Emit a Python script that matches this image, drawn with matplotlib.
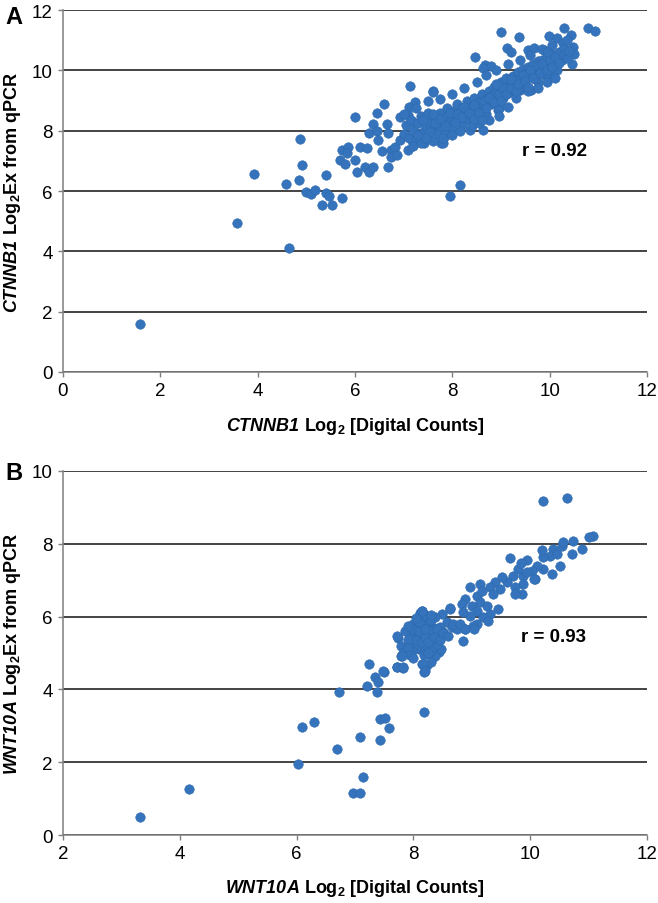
import matplotlib
matplotlib.use("Agg")
from matplotlib import pyplot as plt

plt.rcParams['font.family'] = ['Liberation Sans', 'DejaVu Sans']
plt.rcParams['mathtext.fontset'] = 'custom'
plt.rcParams['mathtext.sf'] = 'Liberation Sans:italic:bold'
plt.rcParams['mathtext.rm'] = 'Liberation Sans:bold'
plt.rcParams['mathtext.bf'] = 'Liberation Sans:bold'

# panel A: CTNNB1, digital counts (x) vs qPCR (y)
ctnnb1_x = [
    1.58, 3.57, 3.92, 4.65, 4.58, 4.85, 4.92, 4.86, 5.00, 5.10, 5.18, 5.33, 5.40, 5.46, 5.53,
    5.74, 5.41, 7.95, 8.15,
    6.00, 6.46, 6.60, 6.65, 6.36, 6.28, 6.46, 6.48, 6.67, 5.74, 5.86, 5.84, 6.11, 6.24, 5.70,
    5.80, 5.99, 6.05, 6.21, 6.28, 6.38, 6.67, 6.56, 6.73, 6.83, 6.93, 6.73, 6.87, 7.08, 7.20,
    7.41, 7.28, 6.93, 7.10, 7.24, 7.08, 7.20, 7.49, 7.60, 7.76, 7.82, 7.14,
    8.46, 8.99, 9.38, 9.98, 10.29, 10.16, 10.43, 10.47, 10.78, 10.93, 9.12, 9.20, 8.68, 8.79,
    8.62, 9.55, 9.67, 9.88, 10.02, 10.27, 10.02, 9.75, 9.61, 9.40, 8.95, 8.93, 8.58, 8.62,
    8.37, 7.80, 7.61,
    7.00, 7.05, 7.10, 7.15, 7.20, 7.25, 7.30, 7.35, 7.40, 7.45, 7.50, 7.50, 7.55, 7.60, 7.65,
    7.70, 7.70, 7.75, 7.80, 7.85, 7.90, 7.90, 7.95, 8.00, 8.00, 8.05, 8.10, 8.10, 8.15, 8.20,
    8.20, 8.25, 8.30, 8.30, 8.35, 8.40, 8.40, 8.45, 8.50, 8.50, 8.55, 8.60, 8.60, 8.65, 8.70,
    8.70, 8.75, 8.80, 8.80, 8.85, 8.90, 8.90, 8.95, 9.00, 9.00, 9.05, 9.10, 9.10, 9.15, 9.20,
    9.25, 9.25, 9.30, 9.35, 9.40, 9.40, 9.45, 9.50, 9.50, 9.55, 9.60, 9.65, 9.70, 9.70, 9.75,
    9.80, 9.85, 9.90, 9.90, 9.95, 10.00, 10.05, 10.10, 10.15, 10.20, 10.25, 10.30,
    7.20, 7.35, 7.60, 7.80, 8.00, 8.15, 8.40, 8.55, 8.75, 8.95, 9.15, 9.30, 9.55, 9.75, 9.95,
    10.10,
    7.00, 7.25, 7.50, 7.75, 8.00, 8.25, 8.50, 8.70, 8.90, 9.15, 9.40, 9.60, 9.85, 10.05, 10.35,
    10.50, 10.45,
    7.30, 7.40, 7.55, 7.65, 7.75, 7.85, 7.95, 8.05, 8.10, 8.20, 8.25, 8.35, 8.45, 8.45, 8.55,
    8.65, 8.70, 8.75, 8.85, 8.95, 9.00, 9.05, 9.10, 9.20, 9.20, 9.30, 9.35, 9.45, 9.50, 9.60,
    9.65, 9.75, 9.80, 9.85, 9.95, 10.00, 10.05, 10.10, 10.20, 10.30, 10.35, 10.40, 7.60, 7.45,
    8.60, 8.90, 9.55, 9.95,
]
ctnnb1_y = [
    1.58, 4.93, 6.55, 4.10, 6.22, 6.37, 6.85, 7.73, 5.98, 5.90, 6.04, 5.54, 5.92, 5.82, 5.55,
    5.76, 6.52, 5.83, 6.19,
    8.46, 8.60, 8.90, 8.23, 8.23, 7.93, 8.00, 7.70, 7.93, 7.37, 7.47, 7.27, 7.47, 7.44, 7.04,
    6.88, 7.04, 6.64, 6.78, 6.64, 6.81, 6.81, 7.31, 7.37, 7.47, 7.70, 7.14, 7.21, 7.37, 7.60,
    7.60, 7.93, 8.46, 8.80, 8.96, 8.53, 8.30, 8.03, 9.30, 7.60, 7.80, 9.49,
    10.45, 11.27, 11.10, 11.15, 11.42, 11.07, 11.17, 10.78, 11.42, 11.30, 10.74, 10.61, 10.18,
    10.15, 10.08, 10.68, 10.74, 10.68, 10.51, 10.91, 9.85, 9.62, 9.36, 9.36, 9.12, 8.69, 8.43,
    8.03, 8.03, 7.60, 9.29,
    7.90, 8.20, 7.75, 8.35, 8.00, 7.70, 8.25, 8.50, 7.95, 8.15, 8.60, 7.80, 8.30, 8.05, 8.45,
    8.20, 7.90, 8.60, 8.35, 8.00, 8.50, 8.75, 8.25, 8.45, 8.10, 8.70, 8.35, 8.90, 8.55, 8.20,
    8.75, 8.45, 8.65, 9.00, 8.35, 8.80, 8.55, 9.10, 8.70, 8.45, 8.95, 8.60, 9.20, 8.85, 9.05,
    8.55, 9.30, 8.90, 9.15, 9.45, 9.00, 9.25, 8.75, 9.35, 9.60, 9.10, 9.45, 9.75, 9.25, 9.55,
    9.80, 9.35, 9.60, 9.95, 9.70, 9.45, 10.05, 9.80, 9.55, 10.10, 9.85, 10.20, 9.95, 9.70,
    10.30, 10.05, 10.35, 10.10, 9.85, 10.45, 10.20, 10.55, 10.30, 10.00, 10.60, 10.35, 10.75,
    7.50, 7.60, 7.65, 7.75, 7.85, 8.00, 8.15, 8.25, 8.35, 8.50, 8.80, 9.10, 9.30, 9.40, 9.60,
    9.75,
    8.55, 8.75, 9.00, 9.05, 9.20, 9.40, 9.60, 9.85, 10.00, 10.20, 10.35, 10.50, 10.70, 10.85,
    11.00, 10.55, 10.20,
    7.85, 8.35, 7.95, 8.25, 8.40, 8.15, 8.60, 8.30, 8.55, 8.45, 8.80, 8.60, 8.40, 8.85, 8.60,
    9.00, 8.75, 9.10, 8.95, 9.20, 9.00, 9.40, 9.20, 9.40, 9.70, 9.30, 9.55, 9.85, 9.65, 10.00,
    9.75, 10.15, 9.90, 10.20, 10.00, 10.35, 10.10, 10.45, 10.25, 10.50, 10.40, 10.65, 8.55, 7.75,
    8.35, 9.55, 9.45, 10.60,
]

# panel B: WNT10A
wnt10a_x = [
    3.32, 4.16, 6.03, 6.10, 6.29, 6.69, 6.73, 6.96, 7.09, 7.13, 7.09, 7.20, 7.24, 7.35, 7.40,
    7.38, 7.43, 7.43, 7.51, 7.59, 7.49, 7.72, 7.83, 7.79, 8.19, 8.14, 8.24, 8.19, 8.34, 8.44,
    10.22, 10.63,
    7.74, 7.79, 7.83, 8.37, 8.47,
    7.95, 8.00, 8.05, 8.10, 8.15, 8.20, 8.25, 8.30, 8.35, 8.00, 8.10, 8.20, 8.30, 8.40, 8.05,
    8.15, 8.25, 8.35, 7.90, 8.12, 8.20, 8.45, 8.28, 8.40, 7.98, 8.18, 8.30,
    11.08, 11.00, 10.89, 10.74, 10.54, 10.39, 10.72, 10.34, 10.22, 10.51, 10.37, 10.22, 10.12,
    9.95, 9.65, 10.03, 10.08, 9.88, 9.79, 9.71, 9.60, 9.88, 9.74, 9.86, 9.74, 9.52, 9.40, 9.31,
    9.48, 9.36, 9.14, 8.97, 9.09, 9.17, 8.88, 8.83, 9.00, 9.14, 9.26, 9.45, 9.31, 9.09, 9.19,
    9.28, 8.97, 9.09, 8.85, 8.63, 8.49, 8.15, 8.37, 8.28, 8.58, 8.66, 8.75, 8.88, 9.02, 8.46,
    8.51, 10.56, 10.20, 10.46, 9.84, 9.95, 10.06,
    7.85, 7.90, 7.95, 8.00, 8.05, 8.10, 8.10, 8.15, 8.20, 8.20, 8.25, 8.25, 8.30, 8.35, 8.40,
    8.45, 8.50, 8.05, 7.90, 8.00, 8.30, 8.15, 8.63, 8.68, 8.80, 8.88, 8.59, 8.85, 7.72, 7.80,
    7.72, 7.82, 8.16, 8.20, 7.48, 9.04,
]
wnt10a_y = [
    0.50, 1.27, 1.94, 2.98, 3.11, 2.37, 3.92, 1.16, 1.16, 1.59, 2.68, 4.10, 4.70, 4.33, 4.20,
    3.94, 3.18, 2.61, 3.21, 2.95, 4.49, 4.61, 4.58, 4.93, 3.37, 4.70, 4.67, 4.47, 4.88, 5.02,
    9.18, 9.26,
    5.42, 5.19, 5.00, 4.91, 5.10,
    5.50, 5.30, 5.60, 5.40, 5.75, 5.20, 5.55, 5.35, 5.70, 5.80, 5.10, 5.90, 5.05, 5.45, 5.15,
    5.50, 5.80, 5.20, 5.35, 6.10, 6.05, 5.60, 5.60, 5.25, 5.05, 4.95, 4.75,
    8.21, 8.18, 7.86, 8.08, 7.94, 7.86, 7.72, 7.66, 7.64, 7.39, 7.17, 7.31, 7.39,
    7.56, 7.61, 7.25, 7.03, 7.12, 7.31, 7.12, 6.95, 6.90, 6.81, 6.62, 6.62, 7.09, 6.95, 6.81,
    6.76, 6.62, 6.90, 6.81, 6.57, 6.70, 6.48, 6.35, 6.30, 6.40, 6.30, 6.20, 6.07, 6.15, 5.99,
    5.88, 6.02, 5.80, 6.13, 6.21, 6.07, 6.15, 5.99, 5.88, 5.85, 5.71, 5.66, 5.66, 5.74, 5.71,
    5.58, 8.06, 7.83, 7.73, 7.46, 7.22, 7.04,
    5.60, 5.15, 4.95, 5.65, 5.35, 5.85, 5.60, 5.30, 5.45, 5.65, 5.00, 5.30, 5.90, 5.45, 5.65,
    5.35, 5.55, 5.95, 5.75, 4.85, 6.04, 6.15, 6.24, 5.80, 5.80, 5.66, 5.47, 5.33, 5.47, 4.92,
    4.62, 4.62, 4.70, 4.50, 4.50, 5.66,
]

dot_color = '#3574bc'
dot_edge = '#2c66a9'

fig = plt.figure(figsize=(6.58, 9.04), dpi=100)
ax_a = fig.add_axes([0.0957, 0.5874, 0.8876, 0.4004])
ax_b = fig.add_axes([0.0957, 0.0752, 0.8876, 0.4027])

panels = [
    (ax_a, ctnnb1_x, ctnnb1_y, (0, 12), (0, 12), 'CTNNB1', 'r = 0.92', (10.1, 7.33), -0.12),
    (ax_b, wnt10a_x, wnt10a_y, (2, 12), (0, 10), 'WNT10A', 'r = 0.93', (10.4, 5.44), -0.115),
]

for ax, xs, ys, xlim, ylim, gene, rtxt, rpos, xlab_y in panels:
    ax.set_xlim(*xlim)
    ax.set_ylim(*ylim)
    ax.set_xticks(range(xlim[0], xlim[1] + 1, 2))
    ax.set_yticks(range(ylim[0], ylim[1] + 1, 2))
    ax.yaxis.grid(True, color='#111111', linewidth=1.1)
    ax.set_axisbelow(True)
    for s in ['top', 'right']:
        ax.spines[s].set_visible(False)
    for s in ['left', 'bottom']:
        ax.spines[s].set_color('#7f7f7f')
        ax.spines[s].set_linewidth(1.1)
    ax.tick_params(axis='both', labelsize=13.5, length=3.5, width=1.0, color='#7f7f7f', pad=4)
    ax.scatter(xs, ys, s=47, color=dot_color, edgecolors=dot_edge, linewidths=0.35, zorder=3,
               clip_on=False)
    ax.text(rpos[0], rpos[1], rtxt, fontsize=13.5, fontweight='bold', ha='center', va='center')
    ax.set_xlabel(r'$\mathsf{' + gene + r'}$ Log$_{\mathrm{2}}$ [Digital Counts]',
                  fontsize=13, fontweight='bold')
    ax.set_ylabel(r'$\mathsf{' + gene + r'}$ Log$_{\mathrm{2}}$Ex from qPCR',
                  fontsize=13, fontweight='bold')
    ax.yaxis.set_label_coords(-0.068, 0.5)
    ax.xaxis.set_label_coords(0.5, xlab_y)

fig.text(5 / 658, 1 - 18 / 904, 'A', fontsize=17, fontweight='bold', va='center', ha='left')
fig.text(5 / 658, 1 - 474 / 904, 'B', fontsize=17, fontweight='bold', va='center', ha='left')

fig.savefig('out.png', dpi=100)
